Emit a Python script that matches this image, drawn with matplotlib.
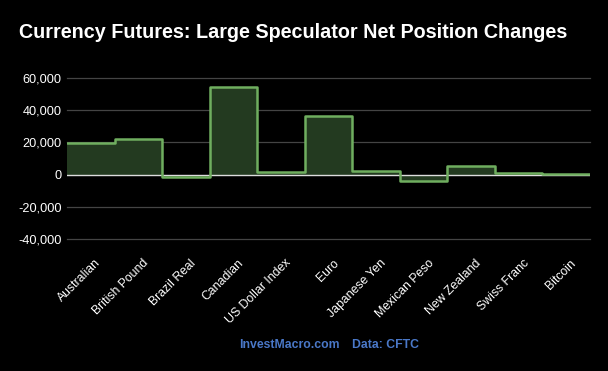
"""Currency futures: large speculator net position changes (step chart)."""

import matplotlib
matplotlib.use("Agg")
import matplotlib.pyplot as plt
import matplotlib.transforms as mtransforms
import numpy as np

plt.rcParams["font.family"] = ["Liberation Sans", "DejaVu Sans"]

categories = [
    "Australian", "British Pound", "Brazil Real", "Canadian", "US Dollar Index",
    "Euro", "Japanese Yen", "Mexican Peso", "New Zealand", "Swiss Franc", "Bitcoin",
]
net_changes = [19600, 22300, -1450, 54300, 1450, 36700, 2050, -3700, 5150, 1050, 150]
y_ticks = [-40000, -20000, 0, 20000, 40000, 60000]

BG = "black"
LINE = "#6fae5f"
FILL = "#233a20"
GRID = "#444444"
FOOTER = "#4a78c8"

fig = plt.figure(figsize=(6.08, 3.71), dpi=100, facecolor=BG)
ax = fig.add_axes([67 / 608, 1 - 239 / 371, (590 - 67) / 608, (239 - 78) / 371])
ax.set_facecolor(BG)

n = len(categories)
edges = np.arange(n + 1)
ax.stairs(net_changes, edges, baseline=0, fill=True, color=FILL, zorder=2)
ax.stairs(net_changes, edges, baseline=None, color=LINE, linewidth=1.8,
          joinstyle="round", capstyle="round", zorder=4)

ax.set_xlim(0, n)
ax.set_ylim(-40000, 60000)
ax.set_yticks(y_ticks)
ax.set_yticklabels([f"{v:,}" for v in y_ticks], color="white", fontsize=9.2)
ax.set_xticks(edges[:-1] + 0.5)
ax.set_xticklabels(categories, rotation=45, ha="right", rotation_mode="anchor",
                   color="white", fontsize=8.8)
ax.tick_params(axis="y", length=0, pad=4)
ax.tick_params(axis="x", length=0, pad=13)

# nudge rotated category labels a little to the right
shift = mtransforms.ScaledTranslation(4 / 100, 0, fig.dpi_scale_trans)
for lbl in ax.get_xticklabels():
    lbl.set_transform(lbl.get_transform() + shift)

for v in y_ticks:
    if v == 0:
        continue
    ax.axhline(v, color=GRID, linewidth=0.9, zorder=1, clip_on=False)
ax.axhline(0, color="#dddddd", linewidth=1.0, zorder=3)

for spine in ax.spines.values():
    spine.set_visible(False)

fig.text(19 / 608, 1 - 32 / 371, "Currency Futures: Large Speculator Net Position Changes",
         color="white", fontsize=14.2, fontweight="bold", va="center", ha="left")
fig.text(289 / 608, 1 - 345 / 371, "InvestMacro.com", color=FOOTER, fontsize=8.8,
         fontweight="bold", va="center", ha="center")
fig.text(386 / 608, 1 - 345 / 371, "Data: CFTC", color=FOOTER, fontsize=8.8,
         fontweight="bold", va="center", ha="center")

fig.savefig("out.png", dpi=100, facecolor=BG)
